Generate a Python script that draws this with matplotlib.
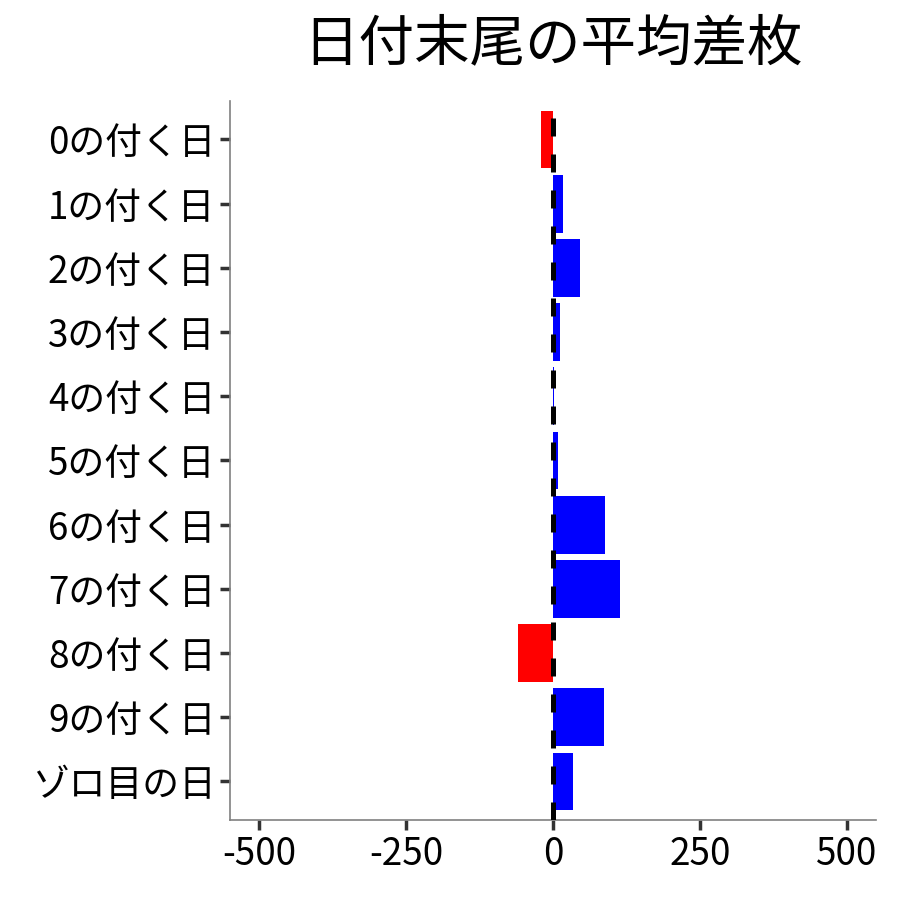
import matplotlib
matplotlib.use("Agg")
import matplotlib.pyplot as plt

plt.rcParams['font.family'] = ['Noto Sans CJK JP', 'DejaVu Sans']

labels = ["0の付く日", "1の付く日", "2の付く日", "3の付く日", "4の付く日",
          "5の付く日", "6の付く日", "7の付く日", "8の付く日", "9の付く日", "ゾロ目の日"]
values = [-21, 17, 46, 11, 2, 8, 88, 114, -59, 87, 34]
colors = ["red" if v < 0 else "blue" for v in values]

fig = plt.figure(figsize=(9, 9), dpi=100)
ax = fig.add_axes([0.2556, 0.0889, 0.7178, 0.7989])

pos = list(range(len(labels)))
ax.barh(pos, values, height=0.9, color=colors, zorder=2)
ax.axvline(0, color="black", lw=3.6, linestyle=(0, (3.6, 3.6)), zorder=3)

ax.set_xlim(-550, 550)
ax.set_ylim(len(labels) - 0.4, -0.6)
ax.set_yticks(pos)
ax.set_yticklabels(labels)
ax.set_xticks([-500, -250, 0, 250, 500])
ax.set_xticklabels(["-500", "-250", "0", "250", "500"])

for s in ["top", "right"]:
    ax.spines[s].set_visible(False)
for s in ["left", "bottom"]:
    ax.spines[s].set_color("#808080")
    ax.spines[s].set_linewidth(1.2)

ax.tick_params(axis="both", labelsize=26.5, color="#333333", width=2.5, length=7.5, pad=3)

fig.suptitle("日付末尾の平均差枚", fontsize=40, x=0.614, y=0.982)

fig.savefig("out.png", dpi=100)
